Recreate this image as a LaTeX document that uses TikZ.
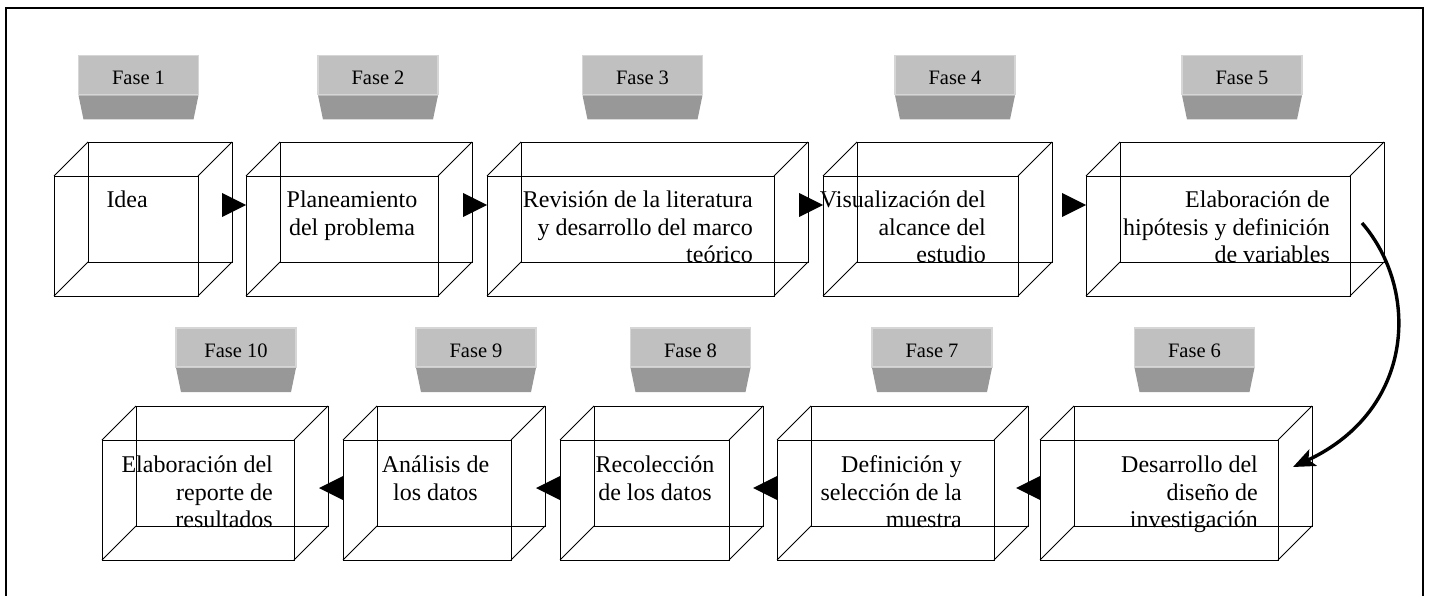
\documentclass[tikz,border=0pt]{standalone}
\usepackage{fontspec}
\setmainfont{Liberation Serif}
\usetikzlibrary{arrows.meta}
\definecolor{tablight}{HTML}{C0C0C0}
\definecolor{tabedge}{HTML}{D6D6D6}
\definecolor{tabdark}{HTML}{989898}
\tikzset{
  face/.style={draw=black, line width=0.9pt, inner sep=0pt, outer sep=0pt, anchor=north west},
  edge/.style={draw=black, line width=0.9pt},
  tabtop/.style={fill=tablight, draw=tabedge, line width=1.6pt, inner sep=0pt, outer sep=0pt,
                 minimum width=120pt, minimum height=39pt},
  fasetext/.style={font=\fontsize{20.5}{24}\selectfont, inner sep=0pt},
  boxtext/.style={font=\fontsize{24}{27.5}\selectfont, inner sep=0pt},
  flow/.style={fill=black},
}
\begin{document}
\begin{tikzpicture}[x=1pt,y=-1pt]
\useasboundingbox (0,0) rectangle (1431,596);
\fill[white] (0,0) rectangle (1431,596);
\draw[line width=2pt] (6,8) rectangle (1423,660);

% ---------- cubes, row 1 ----------
\node[face, minimum width=144pt, minimum height=120pt] (b1) at (54,176) {};
\node[face, minimum width=192pt, minimum height=120pt] (b2) at (246,176) {};
\node[face, minimum width=287pt, minimum height=120pt] (b3) at (487,176) {};
\node[face, minimum width=195pt, minimum height=120pt] (b4) at (823,176) {};
\node[face, minimum width=264pt, minimum height=120pt] (b5) at (1086,176) {};
% ---------- cubes, row 2 ----------
\node[face, minimum width=192pt, minimum height=120pt] (b10) at (102,440) {};
\node[face, minimum width=168pt, minimum height=120pt] (b9) at (343,440) {};
\node[face, minimum width=169pt, minimum height=120pt] (b8) at (560,440) {};
\node[face, minimum width=217pt, minimum height=120pt] (b7) at (777,440) {};
\node[face, minimum width=238pt, minimum height=120pt] (b6) at (1040,440) {};

\foreach \n in {b1,b2,b3,b4,b5,b6,b7,b8,b9,b10} {
  \draw[edge] ([shift={(34pt,34pt)}]\n.south west) rectangle ([shift={(34pt,34pt)}]\n.north east);
  \foreach \a in {north west,north east,south west,south east}
    \draw[edge] (\n.\a) -- ([shift={(34pt,34pt)}]\n.\a);
}

% ---------- texts (anchored at the baseline of the last line) ----------
\node[boxtext, anchor=base east, align=right] (t1) at (148,207.5) {Idea};
\node[boxtext, anchor=base, align=center] (t2) at (352,235) {Planeamiento\\del problema};
\node[boxtext, anchor=base east, align=right] (t3) at (753,262.5) {Revisión de la literatura\\y desarrollo del marco\\teórico};
\node[boxtext, anchor=base east, align=right] (t4) at (986,262.5) {Visualización del\\alcance del\\estudio};
\node[boxtext, anchor=base east, align=right] (t5) at (1330,262.5) {Elaboración de\\hipótesis y definición\\de variables};
\node[boxtext, anchor=base east, align=right] (t10) at (273,527.5) {Elaboración del\\reporte de\\resultados};
\node[boxtext, anchor=base, align=center] (t9) at (435.5,500) {Análisis de\\los datos};
\node[boxtext, anchor=base, align=center] (t8) at (655,500) {Recolección\\de los datos};
\node[boxtext, anchor=base east, align=right] (t7) at (962,527.5) {Definición y\\selección de la\\muestra};
\node[boxtext, anchor=base east, align=right] (t6) at (1258,527.5) {Desarrollo del\\diseño de\\investigación};

% ---------- phase tabs ----------
\foreach \i/\x/\y in {1/138.5/75, 2/378/75, 3/642.5/75, 4/955/75, 5/1242/75,
                      10/236/347.5, 9/476/347.5, 8/690.5/347.5, 7/932/347.5, 6/1194.5/347.5} {
  \node[tabtop] (f\i) at (\x,\y) {};
  \fill[tabdark] ([yshift=-0.8pt]f\i.south west) -- ([yshift=-0.8pt]f\i.south east)
     -- ([shift={(-5pt,-25pt)}]f\i.south east) -- ([shift={(5pt,-25pt)}]f\i.south west) -- cycle;
  \node[fasetext] (ft\i) at ([yshift=-3pt]f\i.center) {Fase \i};
}

% ---------- flow arrows (triangles) ----------
\foreach \n in {b2,b3,b4,b5} {
  \fill[flow] ([yshift=-29pt]\n.north west) -- ([shift={(-24pt,-17pt)}]\n.north west)
     -- ([shift={(-24pt,-41pt)}]\n.north west) -- cycle;
}
\foreach \n in {b9,b8,b7,b6} {
  \fill[flow] ([shift={(-24pt,-48pt)}]\n.north west) -- ([yshift=-36pt]\n.north west)
     -- ([yshift=-60pt]\n.north west) -- cycle;
}

% ---------- curved connector ----------
\coordinate (cs) at (1362,223);
\coordinate (ce) at (1293,467);
\draw[line width=3.4pt, -{Stealth[length=22pt,width=18pt,inset=5pt]}]
  (cs) .. controls (1420,290) and (1415,410) .. (ce);
\end{tikzpicture}
\end{document}
